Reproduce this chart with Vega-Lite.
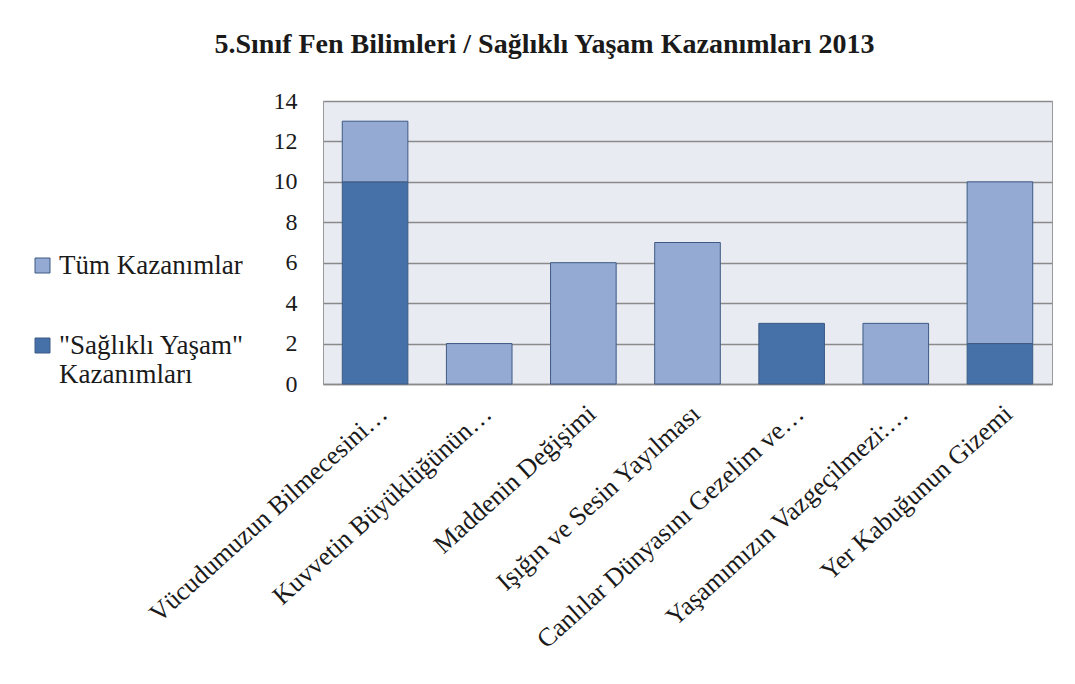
{
  "$schema": "https://vega.github.io/schema/vega-lite/v6.json",
  "autosize": {"type": "none"},
  "width": 729,
  "height": 283,
  "padding": {"left": 323, "top": 101, "right": 23, "bottom": 300},
  "background": "white",
  "title": {
    "text": "5.Sınıf Fen Bilimleri / Sağlıklı Yaşam Kazanımları 2013",
    "font": "Liberation Serif",
    "fontSize": 28,
    "fontWeight": "bold",
    "color": "#1a1a1a",
    "anchor": "middle",
    "frame": "group",
    "dx": -143,
    "offset": 30
  },
  "config": {
    "view": {"fill": "#e8ebf2", "stroke": "#9a9a9a", "strokeWidth": 1},
    "font": "Liberation Serif"
  },
  "data": {
    "values": [
      {"unite": "Vücudumuzun Bilmecesini…", "series": "\"Sağlıklı Yaşam\" Kazanımları", "value": 10},
      {"unite": "Vücudumuzun Bilmecesini…", "series": "Tüm Kazanımlar", "value": 3},
      {"unite": "Kuvvetin Büyüklüğünün…", "series": "Tüm Kazanımlar", "value": 2},
      {"unite": "Maddenin Değişimi", "series": "Tüm Kazanımlar", "value": 6},
      {"unite": "Işığın ve Sesin Yayılması", "series": "Tüm Kazanımlar", "value": 7},
      {"unite": "Canlılar Dünyasını Gezelim ve…", "series": "\"Sağlıklı Yaşam\" Kazanımları", "value": 3},
      {"unite": "Yaşamımızın Vazgeçilmezi:…", "series": "Tüm Kazanımlar", "value": 3},
      {"unite": "Yer Kabuğunun Gizemi", "series": "\"Sağlıklı Yaşam\" Kazanımları", "value": 2},
      {"unite": "Yer Kabuğunun Gizemi", "series": "Tüm Kazanımlar", "value": 8}
    ]
  },
  "mark": {"type": "bar", "stroke": "#3d5a84", "strokeWidth": 1},
  "encoding": {
    "x": {
      "field": "unite",
      "type": "nominal",
      "sort": null,
      "title": null,
      "scale": {"paddingInner": 0.37, "paddingOuter": 0.185},
      "axis": {
        "labelAngle": -42,
        "labelFont": "Liberation Serif",
        "labelFontSize": 26,
        "labelColor": "#1a1a1a",
        "labelLimit": 0,
        "labelPadding": 16,
        "ticks": false,
        "domain": true,
        "domainColor": "#8a8a8a",
        "domainWidth": 1.5,
        "grid": false
      }
    },
    "y": {
      "field": "value",
      "type": "quantitative",
      "aggregate": "sum",
      "stack": "zero",
      "title": null,
      "scale": {"domain": [0, 14], "nice": false},
      "axis": {
        "values": [0, 2, 4, 6, 8, 10, 12, 14],
        "labelFont": "Liberation Serif",
        "labelFontSize": 24,
        "labelColor": "#1a1a1a",
        "labelPadding": 26,
        "ticks": false,
        "domain": false,
        "grid": true,
        "gridColor": "#8a8a8a",
        "gridWidth": 1.5
      }
    },
    "color": {
      "field": "series",
      "type": "nominal",
      "title": null,
      "scale": {
        "domain": ["Tüm Kazanımlar", "\"Sağlıklı Yaşam\" Kazanımları"],
        "range": ["#95aad2", "#4571a8"]
      },
      "legend": {
        "orient": "none",
        "legendX": -294,
        "legendY": 151,
        "symbolType": "square",
        "symbolSize": 225,
        "symbolStrokeColor": "#3d5a84",
        "symbolStrokeWidth": 1,
        "labelFont": "Liberation Serif",
        "labelFontSize": 27,
        "labelColor": "#1a1a1a",
        "labelLimit": 0,
        "labelOffset": 3,
        "rowPadding": 52,
        "labelExpr": "datum.label == 'Tüm Kazanımlar' ? datum.label : ['\"Sağlıklı Yaşam\"', 'Kazanımları']"
      }
    },
    "order": {"field": "series", "sort": "ascending"}
  }
}
